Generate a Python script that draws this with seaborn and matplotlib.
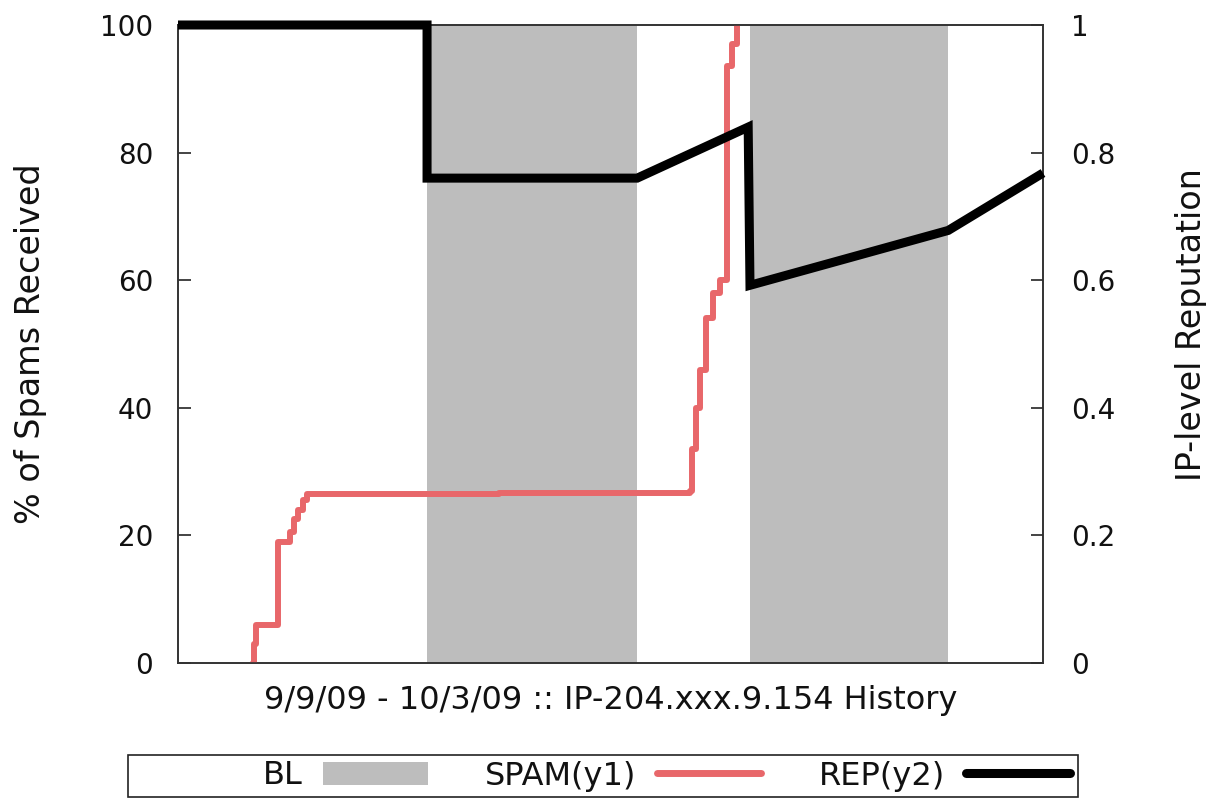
import matplotlib
matplotlib.use("Agg")
import matplotlib.pyplot as plt
import seaborn as sns
from matplotlib.patches import Patch, Rectangle
from matplotlib.lines import Line2D

# ---- data (x in days since 9/9/09) ----
bl_start = [6.91, 15.87]
bl_end = [12.74, 21.37]

spam_x = [2.08, 2.10, 2.16, 2.77, 3.11, 3.22, 3.33, 3.47, 3.58, 8.9, 14.2,
          14.26, 14.37, 14.48, 14.65, 14.84, 15.04, 15.23, 15.37, 15.51]
spam_y = [0, 3, 6, 19, 20.5, 22.5, 24, 25.5, 26.5, 26.7, 26.9,
          33.5, 40, 46, 54, 58, 60, 93.5, 97, 100]

rep_x = [0, 6.91, 6.91, 12.74, 15.82, 15.87, 21.37, 24.0]
rep_y = [1.0, 1.0, 0.76, 0.76, 0.84, 0.592, 0.678, 0.768]

y1_ticks = [0, 20, 40, 60, 80, 100]
y2_ticks = [0, 0.2, 0.4, 0.6, 0.8, 1.0]
y2_labels = ["0", "0.2", "0.4", "0.6", "0.8", "1"]

legend_labels = ["BL", "SPAM(y1)", "REP(y2)"]
xlabel = "9/9/09 - 10/3/09 :: IP-204.xxx.9.154 History"
ylabel1 = "% of Spams Received"
ylabel2 = "IP-level Reputation"

GREY = "#bdbdbd"
RED = "#e8676a"
BLACK = "#000000"
TXT = "#111111"

sns.set_theme(style="white")
plt.rcParams["font.family"] = ["DejaVu Sans"]

W, H = 1206, 799
fig = plt.figure(figsize=(W / 100, H / 100), dpi=100)
L, R, T, B = 178, 1043, 25, 663
ax = fig.add_axes([L / W, 1 - B / H, (R - L) / W, (B - T) / H])

for s, e in zip(bl_start, bl_end):
    ax.axvspan(s, e, color=GREY, lw=0, zorder=0)

sns.lineplot(x=spam_x, y=spam_y, ax=ax, color=RED, lw=4.3,
             drawstyle="steps-post", estimator=None, sort=False,
             legend=False, zorder=3)

ax.set_xlim(0, 24)
ax.set_ylim(0, 100)
ax.set_xticks([])
ax.set_yticks(y1_ticks)
ax.tick_params(axis="y", direction="in", length=9, width=1.1, pad=18,
               labelsize=20, colors=TXT, left=True, right=False)

ax2 = ax.twinx()
sns.lineplot(x=rep_x, y=rep_y, ax=ax2, color=BLACK, lw=6.5,
             estimator=None, sort=False, legend=False, zorder=4)
for ln in ax2.get_lines():
    ln.set_clip_on(False)
    ln.set_solid_capstyle("butt")
    ln.set_solid_joinstyle("miter")
ax2.set_ylim(0, 1)
ax2.set_xlim(0, 24)
ax2.set_yticks(y2_ticks)
ax2.set_yticklabels(y2_labels)
ax2.tick_params(axis="y", direction="in", length=9, width=1.1, pad=20,
                labelsize=20, colors=TXT, right=True, left=False)
ax2.set_xlabel("")

for a in (ax, ax2):
    for sp in a.spines.values():
        sp.set_visible(True)
        sp.set_color("#333333")
        sp.set_linewidth(1.2)

ax.set_xlabel(xlabel, fontsize=23, color=TXT)
ax.xaxis.set_label_coords(0.5, -0.035)
ax.set_ylabel(ylabel1, fontsize=24, color=TXT, va="center")
ax.yaxis.set_label_coords(-0.171, 0.5)
ax2.set_ylabel(ylabel2, fontsize=24, color=TXT, va="center")
ax2.yaxis.set_label_coords(1.172, 0.53)

# legend box (frame drawn separately to span the full width)
fig.patches.append(Rectangle((128 / W, 2 / H), 950 / W, 42 / H,
                             transform=fig.transFigure, fill=False,
                             edgecolor="#222222", lw=1.2, zorder=1))
handles = [Patch(facecolor=GREY, edgecolor="none"),
           Line2D([], [], color=RED, lw=5),
           Line2D([], [], color=BLACK, lw=6.5)]
leg = fig.legend(handles, legend_labels, ncol=3,
                 loc="center right", markerfirst=False,
                 bbox_to_anchor=(1070 / W, 23 / H),
                 fontsize=23, frameon=False, borderpad=0,
                 borderaxespad=0, handlelength=3.26,
                 handletextpad=0.65, handleheight=0.7, columnspacing=1.8)
for t in leg.get_texts():
    t.set_color(TXT)

fig.savefig("out.png", dpi=100)
